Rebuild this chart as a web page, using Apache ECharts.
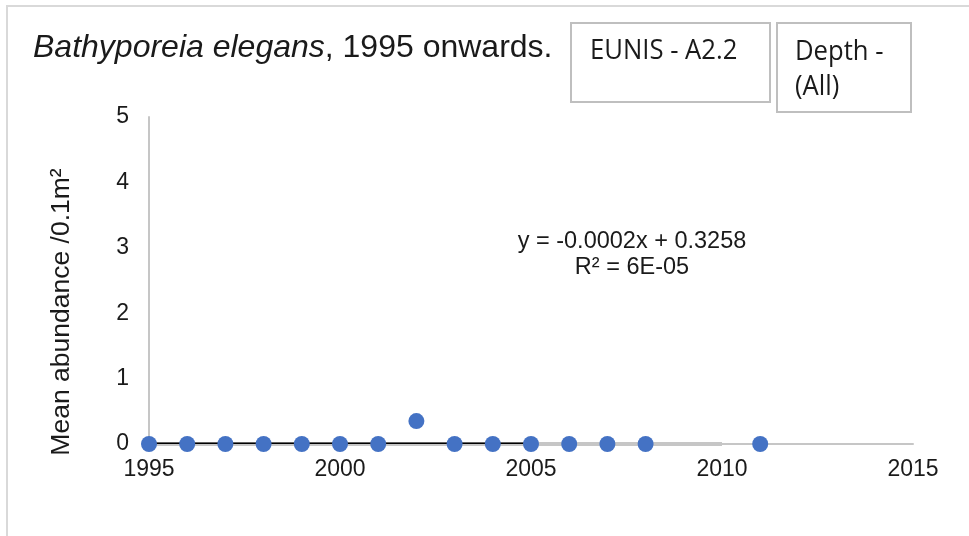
<!DOCTYPE html>
<html>
<head>
<meta charset="utf-8">
<script src="https://cdn.jsdelivr.net/npm/echarts@6/dist/echarts.min.js"></script>
<style>html,body{margin:0;padding:0;background:#fff}#c{width:969px;height:536px}</style>
</head>
<body>
<div id="c"></div>
<script>
// Data
var years  = [1995, 1996, 1997, 1998, 1999, 2000, 2001, 2002, 2003, 2004, 2005, 2006, 2007, 2008, 2011];
var values = [0, 0, 0, 0, 0, 0, 0, 0.35, 0, 0, 0, 0, 0, 0, 0];
var trendX = [1995, 2005];
var trendY = [0.01, 0.01];
var bandX  = [1995, 2010];
var bandY  = [0, 0];
var xTicks = [1995, 2000, 2005, 2010, 2015];
var yTicks = [0, 1, 2, 3, 4, 5];
var equationLines = ['y = -0.0002x + 0.3258', 'R² = 6E-05'];
var titleItalic = 'Bathyporeia elegans';
var titleRest = ', 1995 onwards.';
var boxEunis = 'EUNIS - A2.2';
var boxDepth = ['Depth -', '(All)'];
var yName = 'Mean abundance /0.1m²';

function pairs(xs, ys) { return xs.map(function (x, i) { return [x, ys[i]]; }); }

var chart = echarts.init(document.getElementById('c'));
var txt = '#1a1a1a';
var boxFont = '27px "Open Sans", "DejaVu Sans", sans-serif';
var boxScale = 0.95;
chart.setOption({
  animation: false,
  backgroundColor: '#fff',
  title: {
    text: '{i|' + titleItalic + '}{n|' + titleRest + '}',
    left: 28, top: 27,
    textStyle: {
      rich: {
        i: { fontFamily: 'Arial, Liberation Sans', fontStyle: 'italic', fontWeight: 'normal', fontSize: 32, color: txt },
        n: { fontFamily: 'Arial, Liberation Sans', fontWeight: 'normal', fontSize: 32, color: txt }
      }
    }
  },
  grid: { left: 149, right: 56, top: 117, bottom: 92 },
  xAxis: {
    type: 'value', min: xTicks[0], max: xTicks[xTicks.length - 1], interval: 5,
    axisLine: { show: true, lineStyle: { color: '#c6c6c6', width: 2 } },
    axisTick: { show: false },
    splitLine: { show: false },
    axisLabel: { fontFamily: 'Arial, Liberation Sans', fontSize: 23, color: txt, margin: 14,
      formatter: function (v) { return String(v); } }
  },
  yAxis: {
    type: 'value', min: yTicks[0], max: yTicks[yTicks.length - 1], interval: 1,
    axisLine: { show: true, lineStyle: { color: '#c6c6c6', width: 2 } },
    axisTick: { show: false },
    splitLine: { show: false },
    axisLabel: { fontFamily: 'Arial, Liberation Sans', fontSize: 23, color: txt, margin: 20 }
  },
  series: [
    { type: 'line', data: pairs(bandX, bandY), symbol: 'none', lineStyle: { color: '#c6c6c6', width: 4 }, z: 1 },
    { type: 'line', data: pairs(trendX, trendY), symbol: 'none', lineStyle: { color: '#000', width: 1.5 }, z: 2 },
    { type: 'scatter', data: pairs(years, values), symbolSize: 16, itemStyle: { color: '#4472C4', opacity: 1 }, z: 3 }
  ],
  graphic: [
    { type: 'rect', shape: { x: 7, y: 6, width: 1000, height: 600 }, style: { fill: null, stroke: '#d9d9d9', lineWidth: 2 }, silent: true, z: -1 },
    { type: 'rect', shape: { x: 571, y: 23, width: 199, height: 79 }, style: { fill: '#fff', stroke: '#bfbfbf', lineWidth: 2 } },
    { type: 'rect', shape: { x: 777, y: 23, width: 134, height: 89 }, style: { fill: '#fff', stroke: '#bfbfbf', lineWidth: 2 } },
    { type: 'text', x: 590, y: 51, scaleX: boxScale, style: { x: 0, y: 0, text: boxEunis, font: boxFont, fill: txt, verticalAlign: 'middle' } },
    { type: 'text', x: 795, y: 52, scaleX: boxScale, style: { x: 0, y: 0, text: boxDepth[0], font: boxFont, fill: txt, verticalAlign: 'middle' } },
    { type: 'text', x: 795, y: 87, scaleX: boxScale, style: { x: 0, y: 0, text: boxDepth[1], font: boxFont, fill: txt, verticalAlign: 'middle' } },
    { type: 'text', x: 62, y: 312, rotation: Math.PI / 2, style: { x: 0, y: 0, text: yName, font: '26.5px Arial, "Liberation Sans"', fill: txt, align: 'center', verticalAlign: 'middle' } },
    { type: 'text', style: { x: 632, y: 242, text: equationLines[0], font: '23.5px Arial, "Liberation Sans"', fill: txt, align: 'center', verticalAlign: 'middle' } },
    { type: 'text', style: { x: 632, y: 268, text: equationLines[1], font: '23.5px Arial, "Liberation Sans"', fill: txt, align: 'center', verticalAlign: 'middle' } }
  ]
});
</script>
</body>
</html>
